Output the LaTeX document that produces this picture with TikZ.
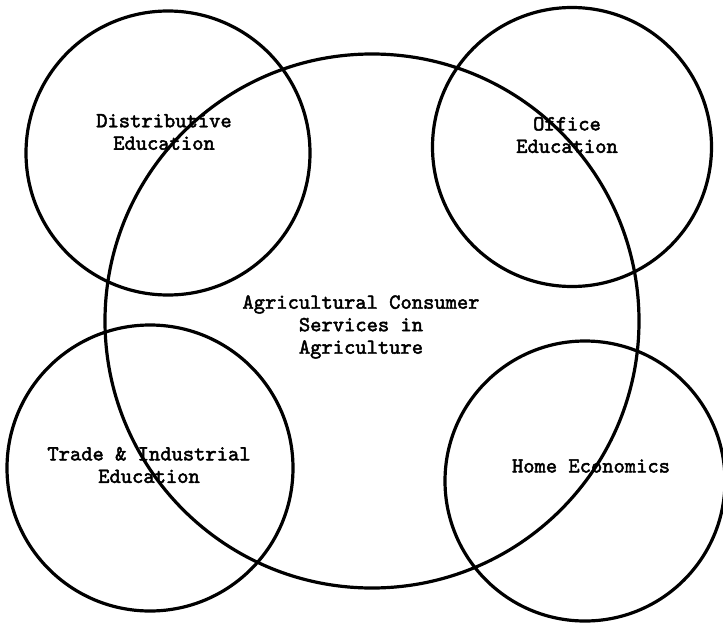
\documentclass[tikz,border=0pt]{standalone}
\usepackage{fontspec}
\newfontfamily\typerfont[FakeBold=2.2]{lmmono10-regular.otf}

\begin{document}
\begin{tikzpicture}[x=1pt,y=-1pt,line width=3.2pt,align=center,
    font=\typerfont\bfseries\fontsize{21.5}{22.5}\selectfont,
    ring/.style={draw,circle,inner sep=0pt}]
  \useasboundingbox (0,0) rectangle (723,624);
  % circles
  \node[ring,minimum size=534pt] (agri) at (372,321) {};
  \node[ring,minimum size=284pt] (dist) at (168,153) {};
  \node[ring,minimum size=279pt] (office) at (572,147) {};
  \node[ring,minimum size=286pt] (trade) at (150,468) {};
  \node[ring,minimum size=280pt] (home) at (585,481) {};
  % labels
  \node (agriText) at (361,327) {Agricultural Consumer\\Services in\\Agriculture};
  \node (distText) at (164,132) {Distributive\\Education};
  \node (officeText) at (567,135) {Office\\Education};
  \node (tradeText) at (149,465) {Trade \& Industrial\\Education};
  \node (homeText) at (591,466) {Home Economics};
\end{tikzpicture}
\end{document}
